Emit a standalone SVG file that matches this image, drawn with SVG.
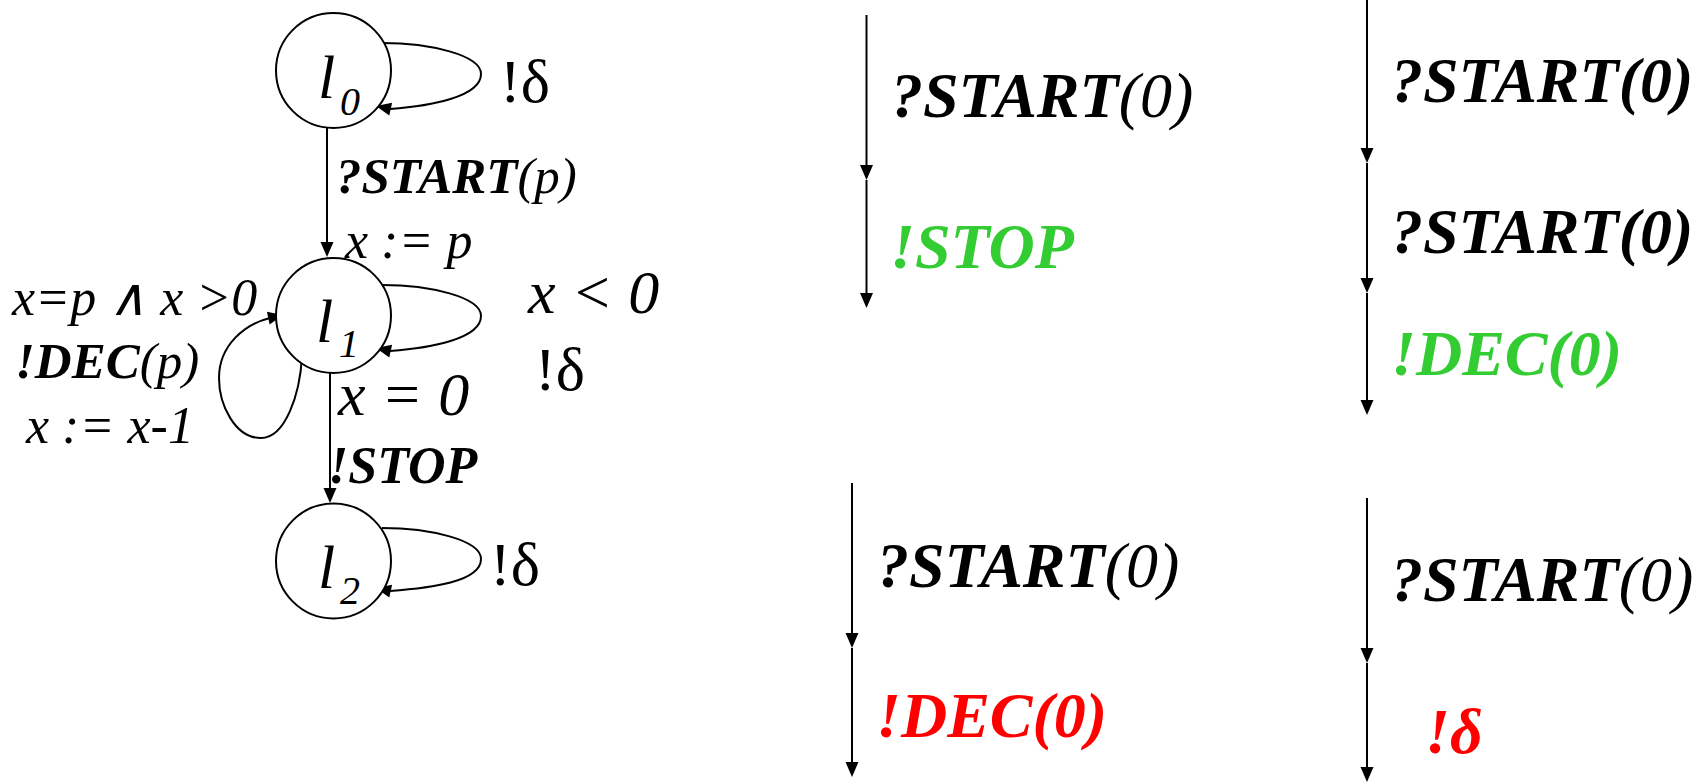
<svg xmlns="http://www.w3.org/2000/svg" width="1705" height="782" viewBox="0 0 1705 782">
  <style>
    .it { font-style: italic; }
    .b { font-weight: bold; }
    .state { fill: #fff; stroke: #000; stroke-width: 2; }
    .edge { fill: none; stroke: #000; stroke-width: 2; }
    .head { fill: #000; stroke: none; }
    .green { fill: #33cc33; }
    .red { fill: #ff0000; }
  </style>

  <rect width="1705" height="782" fill="#fff"/>

  <!-- automaton transitions -->
  <g id="connectors">
    <line class="edge" x1="327" y1="128" x2="327" y2="245"/>
    <polygon class="head" points="320.5,242 327,257 333.5,242"/>
    <line class="edge" x1="330" y1="373" x2="330" y2="491"/>
    <polygon class="head" points="323.5,488 330,503 336.5,488"/>
    <path class="edge" d="M382,43 C430,43 481,55 481,74 C481,97 430,106 390,109"/>
    <polygon class="head" points="376,106 392.1,102.7 389.3,115.5"/>
    <path class="edge" d="M382,285 C430,285 481,297 481,316 C481,339 430,348 390,351"/>
    <polygon class="head" points="376,348 392.1,344.7 389.3,357.5"/>
    <path class="edge" d="M382,528 C430,528 481,540 481,559 C481,582 430,588 390,591"/>
    <polygon class="head" points="376,588 392.1,584.7 389.3,597.5"/>
    <path class="edge" d="M302,356 C300,395 285,438 261,438 C235,438 219,405 219,378 C219,345 245,324 270,318"/>
    <polygon class="head" points="283,315 269.6,324.5 266.9,311.8"/>
  </g>

  <!-- states -->
  <g id="l0">
    <circle class="state" cx="333.5" cy="70.5" r="57.5"/>
    <text style="font-family:'Liberation Serif',serif" class="it" x="318" y="98" font-size="62">l</text>
    <text style="font-family:'Liberation Serif',serif" class="it" x="340" y="115" font-size="40">0</text>
  </g>
  <g id="l1">
    <circle class="state" cx="333.5" cy="315.5" r="57.5"/>
    <text style="font-family:'Liberation Serif',serif" class="it" x="316" y="342" font-size="62">l</text>
    <text style="font-family:'Liberation Serif',serif" class="it" x="339" y="357" font-size="40">1</text>
  </g>
  <g id="l2">
    <circle class="state" cx="333.5" cy="561" r="57.5"/>
    <text style="font-family:'Liberation Serif',serif" class="it" x="318" y="588" font-size="62">l</text>
    <text style="font-family:'Liberation Serif',serif" class="it" x="340" y="604" font-size="40">2</text>
  </g>

  <!-- transition labels -->
  <g id="labels">
    <text style="font-family:'Liberation Serif',serif" x="500" y="102" font-size="62">!δ</text>
    <text style="font-family:'Liberation Serif',serif" class="it" x="336" y="193" font-size="51"><tspan class="b">?START</tspan>(p)</text>
    <text style="font-family:'Liberation Serif',serif" class="it" x="345" y="258" font-size="52">x := p</text>
    <text style="font-family:'Liberation Serif',serif" class="it" x="12" y="315" font-size="52">x=p ∧ x &gt;0</text>
    <text style="font-family:'Liberation Serif',serif" class="it" x="15" y="378" font-size="51"><tspan class="b">!DEC</tspan>(p)</text>
    <text style="font-family:'Liberation Serif',serif" class="it" x="26" y="443" font-size="52">x := x-1</text>
    <text style="font-family:'Liberation Serif',serif" class="it" x="528" y="313" font-size="62">x &lt; 0</text>
    <text style="font-family:'Liberation Serif',serif" x="535" y="390" font-size="62">!δ</text>
    <text style="font-family:'Liberation Serif',serif" class="it" x="338" y="415" font-size="62">x = 0</text>
    <text style="font-family:'Liberation Serif',serif" class="it b" x="328" y="483" font-size="52">!STOP</text>
    <text style="font-family:'Liberation Serif',serif" x="490" y="585" font-size="62">!δ</text>
  </g>

  <!-- run 1 -->
  <g id="trace1">
    <line class="edge" x1="866.5" y1="15" x2="866.5" y2="170"/>
    <polygon class="head" points="860,165 866.5,180 873,165"/>
    <line class="edge" x1="866.5" y1="180" x2="866.5" y2="298"/>
    <polygon class="head" points="860,293 866.5,308 873,293"/>
    <text style="font-family:'Liberation Serif',serif" class="it" x="891" y="117" font-size="64"><tspan class="b">?START</tspan>(0)</text>
    <text style="font-family:'Liberation Serif',serif" class="it b green" x="890" y="268" font-size="64">!STOP</text>
  </g>

  <!-- run 2 -->
  <g id="trace2">
    <line class="edge" x1="1367" y1="0" x2="1367" y2="153"/>
    <polygon class="head" points="1360.5,148 1367,163 1373.5,148"/>
    <line class="edge" x1="1367" y1="163" x2="1367" y2="283"/>
    <polygon class="head" points="1360.5,278 1367,293 1373.5,278"/>
    <line class="edge" x1="1367" y1="293" x2="1367" y2="405"/>
    <polygon class="head" points="1360.5,400 1367,415 1373.5,400"/>
    <text style="font-family:'Liberation Serif',serif" class="it b" x="1391" y="102" font-size="64">?START(0)</text>
    <text style="font-family:'Liberation Serif',serif" class="it b" x="1391" y="253" font-size="64">?START(0)</text>
    <text style="font-family:'Liberation Serif',serif" class="it b green" x="1391" y="375" font-size="64">!DEC(0)</text>
  </g>

  <!-- run 3 -->
  <g id="trace3">
    <line class="edge" x1="852" y1="483" x2="852" y2="638"/>
    <polygon class="head" points="845.5,633 852,648 858.5,633"/>
    <line class="edge" x1="852" y1="648" x2="852" y2="767"/>
    <polygon class="head" points="845.5,762 852,777 858.5,762"/>
    <text style="font-family:'Liberation Serif',serif" class="it" x="877" y="587" font-size="64"><tspan class="b">?START</tspan>(0)</text>
    <text style="font-family:'Liberation Serif',serif" class="it b red" x="876" y="737" font-size="64">!DEC(0)</text>
  </g>

  <!-- run 4 -->
  <g id="trace4">
    <line class="edge" x1="1367" y1="498" x2="1367" y2="653"/>
    <polygon class="head" points="1360.5,648 1367,663 1373.5,648"/>
    <line class="edge" x1="1367" y1="663" x2="1367" y2="772"/>
    <polygon class="head" points="1360.5,767 1367,782 1373.5,767"/>
    <text style="font-family:'Liberation Serif',serif" class="it" x="1391" y="601" font-size="64"><tspan class="b">?START</tspan>(0)</text>
    <text style="font-family:'Liberation Serif',serif" class="it b red" x="1425" y="753" font-size="64">!δ</text>
  </g>
</svg>
